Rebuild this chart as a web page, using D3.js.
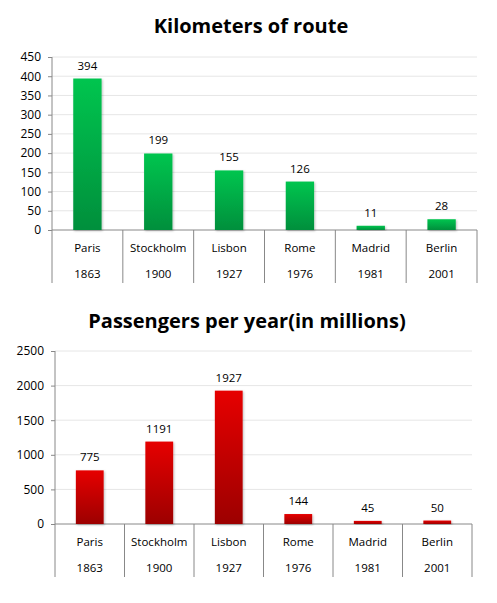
<!DOCTYPE html>
<html>
<head>
<meta charset="utf-8">
<script src="https://cdn.jsdelivr.net/npm/d3@7"></script>
<style>
  body { margin: 0; background: #fff; }
  text { font-family: "Open Sans", "Liberation Sans", Arial, sans-serif; fill: #000; }
  .title { font-weight: bold; font-size: 20px; }
  .tick text { font-size: 12px; font-family: "Open Sans", sans-serif; }
  .cat { font-size: 11.5px; }
  .val { font-size: 11.5px; }
</style>
</head>
<body>
<svg id="chart" width="497" height="603"></svg>
<script>
const cities = ["Paris", "Stockholm", "Lisbon", "Rome", "Madrid", "Berlin"];
const years = ["1863", "1900", "1927", "1976", "1981", "2001"];
const kmRoute = [394, 199, 155, 126, 11, 28];
const passengers = [775, 1191, 1927, 144, 45, 50];
const kmTicks = [0, 50, 100, 150, 200, 250, 300, 350, 400, 450];
const paxTicks = [0, 500, 1000, 1500, 2000, 2500];

const svg = d3.select("#chart");
const defs = svg.append("defs");

function gradient(id, top, bottom) {
    const g = defs.append("linearGradient")
      .attr("id", id)
      .attr("x1", 0).attr("y1", 0).attr("x2", 0).attr("y2", 1);
    g.append("stop").attr("offset", "0%").attr("stop-color", top);
    g.append("stop").attr("offset", "100%").attr("stop-color", bottom);
}
gradient("green", "#00c54f", "#008f3c");
gradient("red", "#e60000", "#9c0000");

defs.append("filter").attr("id", "shadow")
  .attr("x", "-20%").attr("y", "-20%").attr("width", "140%").attr("height", "140%")
  .append("feDropShadow")
    .attr("dx", 1).attr("dy", 1).attr("stdDeviation", 1)
    .attr("flood-color", "#000").attr("flood-opacity", 0.25);

function drawChart(opt) {
    const g = svg.append("g");

    g.append("text")
      .attr("class", "title")
      .attr("x", opt.titleX).attr("y", opt.titleY)
      .attr("text-anchor", "middle")
      .text(opt.title);

    const x = d3.scaleBand()
      .domain(cities)
      .range([opt.left, opt.right])
      .paddingInner(0.6).paddingOuter(0.3);

    const y = d3.scaleLinear()
      .domain([0, opt.ticks[opt.ticks.length - 1]])
      .range([opt.base, opt.top]);

    // grid lines
    g.selectAll(".grid")
      .data(opt.ticks.slice(1))
      .enter().append("line")
        .attr("x1", opt.left).attr("x2", opt.right)
        .attr("y1", d => y(d)).attr("y2", d => y(d))
        .attr("stroke", "#e6e6e6");

    const axis = g.append("g")
      .attr("transform", `translate(${opt.left},0)`)
      .call(d3.axisLeft(y).tickValues(opt.ticks).tickFormat(d3.format("d"))
        .tickSize(4).tickPadding(7));
    axis.select(".domain").remove();
    axis.selectAll(".tick line").attr("stroke", "#888");

    g.append("line")
      .attr("x1", opt.left).attr("x2", opt.left)
      .attr("y1", opt.top).attr("y2", opt.bottomLine)
      .attr("stroke", "#888");

    g.append("line")
      .attr("x1", opt.left).attr("x2", opt.right)
      .attr("y1", opt.base).attr("y2", opt.base)
      .attr("stroke", "#888");

    // category separators
    const step = (opt.right - opt.left) / cities.length;
    g.selectAll(".sep")
      .data(d3.range(1, cities.length + 1))
      .enter().append("line")
        .attr("x1", i => opt.left + i * step).attr("x2", i => opt.left + i * step)
        .attr("y1", opt.base).attr("y2", opt.bottomLine)
        .attr("stroke", "#888");

    g.selectAll(".bar")
      .data(opt.values)
      .enter().append("rect")
        .attr("x", (d, i) => x(cities[i]))
        .attr("width", x.bandwidth())
        .attr("y", d => y(d))
        .attr("height", d => opt.base - y(d))
        .attr("fill", `url(#${opt.fill})`)
        .attr("filter", "url(#shadow)");

    g.selectAll(".val")
      .data(opt.values)
      .enter().append("text")
        .attr("class", "val")
        .attr("x", (d, i) => x(cities[i]) + x.bandwidth() / 2)
        .attr("y", d => y(d) - 9)
        .attr("text-anchor", "middle")
        .text(d => d);

    g.selectAll(".city")
      .data(cities)
      .enter().append("text")
        .attr("class", "cat")
        .attr("x", d => x(d) + x.bandwidth() / 2)
        .attr("y", opt.base + 22)
        .attr("text-anchor", "middle")
        .text(d => d);

    g.selectAll(".year")
      .data(years)
      .enter().append("text")
        .attr("class", "cat")
        .attr("x", (d, i) => x(cities[i]) + x.bandwidth() / 2)
        .attr("y", opt.base + 48)
        .attr("text-anchor", "middle")
        .text(d => d);
}

drawChart({
    title: "Kilometers of route", titleX: 251, titleY: 33,
    values: kmRoute, ticks: kmTicks, fill: "green",
    left: 52, right: 477, top: 57, base: 230, bottomLine: 283
});

drawChart({
    title: "Passengers per year(in millions)", titleX: 247, titleY: 328,
    values: passengers, ticks: paxTicks, fill: "red",
    left: 55, right: 472, top: 351, base: 524, bottomLine: 577
});
</script>
</body>
</html>
